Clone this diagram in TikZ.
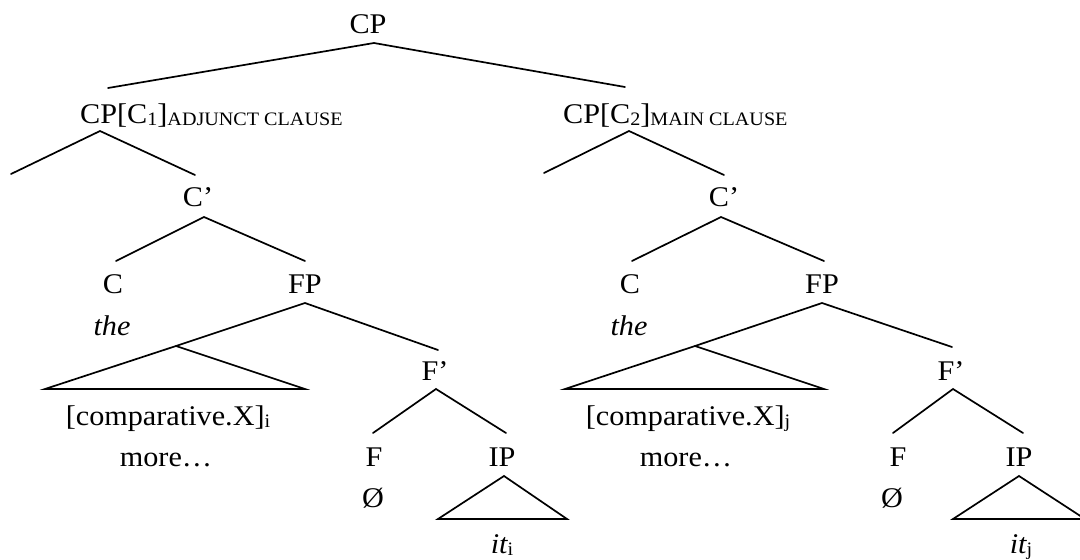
\documentclass[tikz,border=0pt]{standalone}
\usepackage{fontspec}
\setmainfont{Liberation Serif}
\usepackage{graphicx}
\newcommand\mytxt[1]{\scalebox{1.06}[1]{\fontsize{28.5}{32}\selectfont #1}}
\newcommand\mysub[1]{\raisebox{-2pt}{\fontsize{19}{20}\selectfont #1}}
\tikzset{
  lbl/.style={inner sep=0pt, anchor=base},
  lblw/.style={inner sep=0pt, anchor=base west},
  edge/.style={line width=1.7pt, line cap=round, line join=miter},
}
\begin{document}
\begin{tikzpicture}[x=1pt,y=-1pt]
\useasboundingbox (0,0) rectangle (1080,560);
% text nodes
\node[lbl]  (cp)    at (368,33)  {\mytxt{CP}};
\node[lblw] (cp1)   at (80,123)  {\mytxt{CP[C\mysub{1}]\mysub{ADJUNCT CLAUSE}}};
\node[lblw] (cp2)   at (563,123) {\mytxt{CP[C\mysub{2}]\mysub{MAIN CLAUSE}}};
\node[lbl]  (cb1)   at (198,206) {\mytxt{C'}};
\node[lbl]  (cb2)   at (724,206) {\mytxt{C'}};
\node[lbl]  (c1)    at (113,293) {\mytxt{C}};
\node[lbl]  (fp1)   at (305,293) {\mytxt{FP}};
\node[lbl]  (c2)    at (630,293) {\mytxt{C}};
\node[lbl]  (fp2)   at (822,293) {\mytxt{FP}};
\node[lbl]  (the1)  at (112,335) {\mytxt{\itshape the}};
\node[lbl]  (the2)  at (629,335) {\mytxt{\itshape the}};
\node[lbl]  (fb1)   at (435,380) {\mytxt{F'}};
\node[lbl]  (fb2)   at (951,380) {\mytxt{F'}};
\node[lbl]  (comp1) at (168,425) {\mytxt{[comparative.X]\mysub{i}}};
\node[lbl]  (comp2) at (688,425) {\mytxt{[comparative.X]\mysub{j}}};
\node[lbl]  (more1) at (166,466) {\mytxt{more…}};
\node[lbl]  (more2) at (686,466) {\mytxt{more…}};
\node[lbl]  (f1)    at (374,466) {\mytxt{F}};
\node[lbl]  (ip1)   at (502,466) {\mytxt{IP}};
\node[lbl]  (f2)    at (898,466) {\mytxt{F}};
\node[lbl]  (ip2)   at (1019,466) {\mytxt{IP}};
\node[lbl]  (o1)    at (373,507) {\mytxt{Ø}};
\node[lbl]  (o2)    at (892,507) {\mytxt{Ø}};
\node[lbl]  (it1)   at (502,553) {\mytxt{\itshape it\upshape\mysub{i}}};
\node[lbl]  (it2)   at (1021,553) {\mytxt{\itshape it\upshape\mysub{j}}};
% branch points
\coordinate (a0) at (374,43);  \coordinate (e0l) at (108,88);  \coordinate (e0r) at (625,87);
\coordinate (a1) at (100,131); \coordinate (e1l) at (11,174);  \coordinate (e1r) at (195,175);
\coordinate (a2) at (629,131); \coordinate (e2l) at (544,173); \coordinate (e2r) at (724,175);
\coordinate (a3) at (204,217); \coordinate (e3l) at (116,261); \coordinate (e3r) at (305,261);
\coordinate (a4) at (721,217); \coordinate (e4l) at (632,261); \coordinate (e4r) at (824,261);
\coordinate (a5) at (305,303); \coordinate (s1)  at (176,346); \coordinate (e5r) at (438,350);
\coordinate (a6) at (822,303); \coordinate (s2)  at (695,346); \coordinate (e6r) at (952,347);
\coordinate (t1l) at (45,389);  \coordinate (t1r) at (305,389);
\coordinate (t2l) at (565,389); \coordinate (t2r) at (824,389);
\coordinate (a7) at (436,389); \coordinate (e7l) at (373,433); \coordinate (e7r) at (506,433);
\coordinate (a8) at (953,389); \coordinate (e8l) at (893,433); \coordinate (e8r) at (1023,433);
\coordinate (t3a) at (504,476); \coordinate (t3l) at (438,519); \coordinate (t3r) at (567,519);
\coordinate (t4a) at (1019,476); \coordinate (t4l) at (953,519); \coordinate (t4r) at (1085,519);
% connectors
\draw[edge] (e0l) -- (a0) -- (e0r);
\draw[edge] (e1l) -- (a1) -- (e1r);
\draw[edge] (e2l) -- (a2) -- (e2r);
\draw[edge] (e3l) -- (a3) -- (e3r);
\draw[edge] (e4l) -- (a4) -- (e4r);
\draw[edge] (s1) -- (a5) -- (e5r);
\draw[edge] (s2) -- (a6) -- (e6r);
\draw[edge] (s1) -- (t1l) -- (t1r) -- cycle;
\draw[edge] (s2) -- (t2l) -- (t2r) -- cycle;
\draw[edge] (e7l) -- (a7) -- (e7r);
\draw[edge] (e8l) -- (a8) -- (e8r);
\draw[edge] (t3a) -- (t3l) -- (t3r) -- cycle;
\draw[edge] (t4a) -- (t4l) -- (t4r) -- cycle;
\end{tikzpicture}
\end{document}
